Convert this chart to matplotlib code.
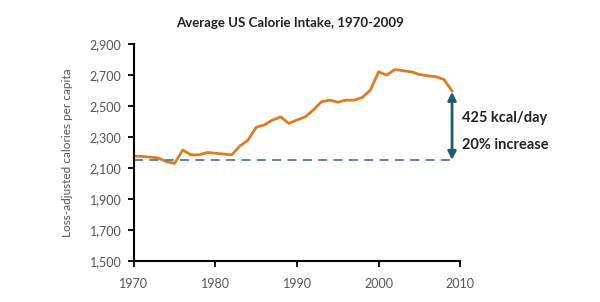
import matplotlib
matplotlib.use("Agg")
import matplotlib.pyplot as plt

years = list(range(1970, 2010))
calories = [2177, 2175, 2170, 2165, 2141, 2130, 2216, 2185, 2185, 2200,
            2195, 2190, 2185, 2242, 2280, 2363, 2378, 2410, 2430, 2388,
            2410, 2430, 2474, 2528, 2538, 2525, 2538, 2538, 2555, 2603,
            2721, 2700, 2736, 2728, 2721, 2704, 2695, 2690, 2672, 2597]
baseline = 2152
yticks = [1500, 1700, 1900, 2100, 2300, 2500, 2700, 2900]
xticks = [1970, 1980, 1990, 2000, 2010]
title = "Average US Calorie Intake, 1970-2009"
ylabel = "Loss-adjusted calories per capita"
note1 = "425 kcal/day"
note2 = "20% increase"

plt.rcParams['font.family'] = ['Lato', 'DejaVu Sans']

fig = plt.figure(figsize=(6.0, 3.02), dpi=100)
ax = fig.add_axes([0.223, 0.136, 0.544, 0.718])

ax.plot(years, calories, color='#e07b25', lw=2.0, solid_joinstyle='round')
ax.plot([years[0], years[-1]], [baseline, baseline], color='#4a7fa0', lw=1.3,
        dashes=(5, 3.5))
ax.annotate('', xy=(2009, baseline), xytext=(2009, calories[-1] - 5),
            arrowprops=dict(arrowstyle='<|-|>', color='#1d5c6e', lw=2.0,
                            mutation_scale=12, shrinkA=0, shrinkB=0))
ax.text(2010.2, 2420, note1, fontsize=10.5, fontweight='bold', color='#222222',
        va='center', ha='left')
ax.text(2010.2, 2250, note2, fontsize=10.5, fontweight='bold', color='#222222',
        va='center', ha='left')

ax.set_xlim(1970, 2010)
ax.set_ylim(1500, 2900)
ax.set_xticks(xticks)
ax.set_yticks(yticks)
ax.set_yticklabels([f"{v:,}" for v in yticks])
for s in ['top', 'right']:
    ax.spines[s].set_visible(False)
for s in ['left', 'bottom']:
    ax.spines[s].set_linewidth(1.5)
    ax.spines[s].set_color('black')
ax.tick_params(axis='both', direction='out', length=4, width=1.3,
               labelsize=9, labelcolor='#555555', color='black')
ax.tick_params(axis='y', pad=5)
ax.tick_params(axis='x', pad=8)
ax.set_ylabel(ylabel, fontsize=8.5, color='#555555', labelpad=12)
fig.text(0.483, 0.925, title, fontsize=9.5, fontweight='bold', color='#222222',
         ha='center', va='center')

fig.savefig('out.png', dpi=100, facecolor='white')
